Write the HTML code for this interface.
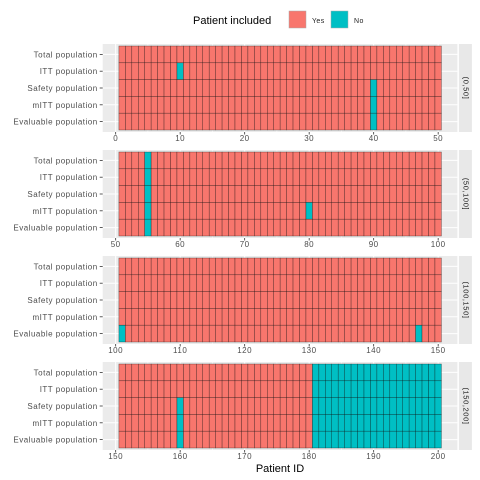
<!DOCTYPE html>
<html><head><meta charset="utf-8"><style>
body{margin:0;background:#fff}
svg{display:block;font-family:"Liberation Sans",sans-serif}
</style></head><body>
<svg id="c" width="480" height="480">
<g id="legend">
<text x="193" y="24" font-size="11" fill="#000">Patient included</text>
<rect x="289" y="11" width="17" height="17" fill="#F8766D" stroke="#aaa" stroke-width="0.5"/>
<text x="312" y="23" font-size="7" fill="#222" letter-spacing="0.4">Yes</text>
<rect x="331" y="11" width="17" height="17" fill="#00BFC4" stroke="#aaa" stroke-width="0.5"/>
<text x="354" y="23" font-size="7" fill="#222" letter-spacing="0.4">No</text>
</g>
<text x="280" y="472" font-size="11" text-anchor="middle" fill="#000">Patient ID</text>
</svg>
<script>
const populations = ["Total population","ITT population","Safety population","mITT population","Evaluable population"];
const panelLabels = ["(0,50]","(50,100]","(100,150]","(150,200]"];
const panelStarts = [0,50,100,150];
const tickLabels = [[0,10,20,30,40,50],[50,60,70,80,90,100],[100,110,120,130,140,150],[150,160,170,180,190,200]];
const excludedTotal = [181,182,183,184,185,186,187,188,189,190,191,192,193,194,195,196,197,198,199,200,55];
const excludedITT = [10,55];
const excludedSafety = [40,55,160];
const excludedMITT = [40,55,80,160];
const excludedEvaluable = [40,55,101,147,160];
const excludedByPop = [excludedTotal, excludedITT, excludedSafety, excludedMITT, excludedEvaluable];
for (let r=1;r<5;r++) excludedTotal.forEach(v=>{ if(!excludedByPop[r].includes(v)) excludedByPop[r].push(v); });

const svg = document.getElementById('c');
const NS = "http://www.w3.org/2000/svg";
function mk(tag, attrs){const e=document.createElementNS(NS,tag);for(const k in attrs)e.setAttribute(k,attrs[k]);return e;}
const bgL=102.7, bgR=457.4, unit=6.45;
const rowH=16.8;
panelStarts.forEach((start,p)=>{
  const top=44+106*p;
  const g=mk('g',{});
  
  
  svg.appendChild(g);
  const xs=v=>bgL+16.2+(v-start-0.5)*unit;
  const bg=mk('rect',{x:bgL,y:top,width:bgR-bgL,height:88,fill:'#ebebeb'});
  
  
  g.appendChild(bg);
  tickLabels[p].forEach((t,i)=>{
    const x=xs(t);
    g.appendChild(mk('line',{x1:x,x2:x,y1:top,y2:top+88,stroke:'#fff','stroke-width':1}));
    if(i<5){const m=xs(t+5);g.appendChild(mk('line',{x1:m,x2:m,y1:top,y2:top+88,stroke:'#fff','stroke-width':0.5}));}
    g.appendChild(mk('line',{x1:x,x2:x,y1:top+88,y2:top+90.5,stroke:'#333','stroke-width':0.8}));
    const tl=mk('text',{x:x,y:top+97,'font-size':8,'text-anchor':'middle',fill:'#4d4d4d','letter-spacing':0.5});
    tl.textContent=t;
    
    
    g.appendChild(tl);
  });
  populations.forEach((pop,r)=>{
    const yc=top+2+rowH*(r+0.5);
    g.appendChild(mk('line',{x1:bgL,x2:bgR,y1:yc,y2:yc,stroke:'#fff','stroke-width':1}));
    g.appendChild(mk('line',{x1:bgL-3,x2:bgL,y1:yc,y2:yc,stroke:'#333','stroke-width':0.8}));
    const lab=mk('text',{x:bgL-5,y:yc+3,'font-size':8,'text-anchor':'end',fill:'#4d4d4d','letter-spacing':0.5});
    lab.textContent=pop;
    
    
    g.appendChild(lab);
    for(let id=start+1; id<=start+50; id++){
      const no=excludedByPop[r].includes(id);
      const c=mk('rect',{x:xs(id)-unit/2,y:top+2+rowH*r,width:unit,height:rowH,fill:no?'#00BFC4':'#F8766D',stroke:'rgba(0,0,0,0.55)','stroke-width':0.5});
      
      
      g.appendChild(c);
    }
  });
  const st=mk('rect',{x:bgR+1.5,y:top,width:13,height:88,fill:'#e8e8e8'});
  
  
  g.appendChild(st);
  const sx=bgR+8, sy=top+44;
  const stx=mk('text',{x:sx,y:sy,'font-size':7.5,'text-anchor':'middle','dominant-baseline':'middle',fill:'#1a1a1a','letter-spacing':0.6,transform:`rotate(90 ${sx} ${sy})`});
  stx.textContent=panelLabels[p];
  
  
  g.appendChild(stx);
});
</script>
</body></html>
